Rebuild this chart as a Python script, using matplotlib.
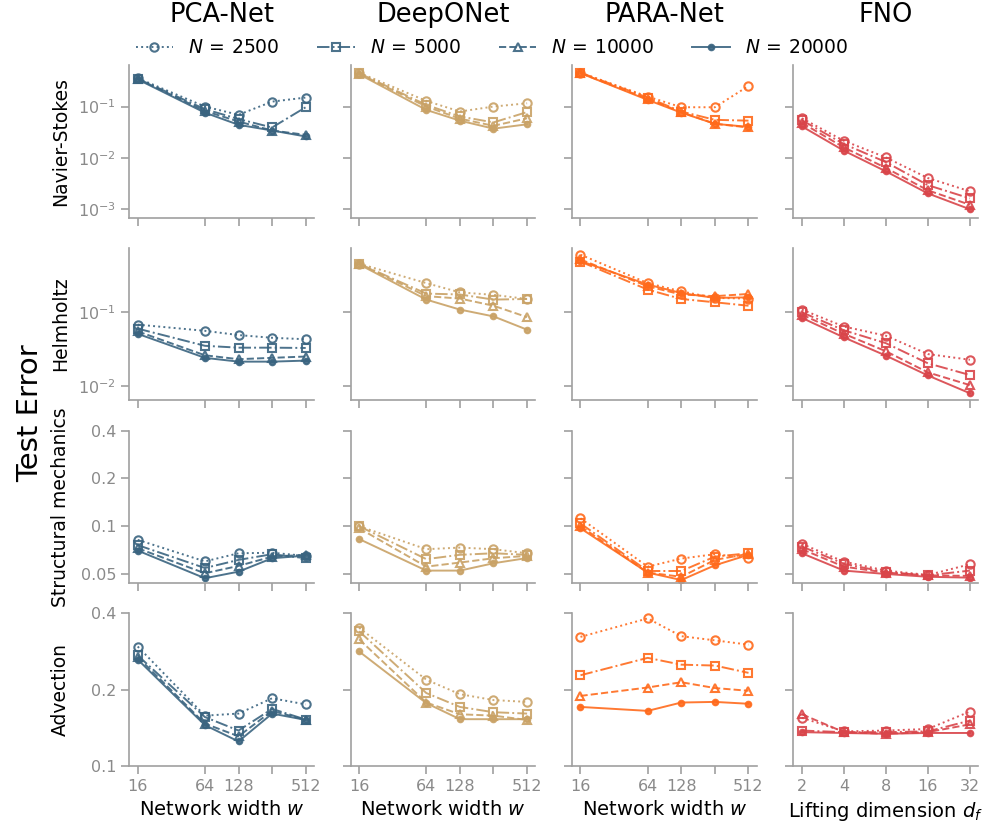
import matplotlib.pyplot as plt
from matplotlib.ticker import NullLocator, NullFormatter

widths = [16, 64, 128, 256, 512]
lifting = [2, 4, 8, 16, 32]
sample_sizes = [2500, 5000, 10000, 20000]
models = ['PCA-Net', 'DeepONet', 'PARA-Net', 'FNO']
problems = ['Navier-Stokes', 'Helmholtz', 'Structural mechanics', 'Advection']

# each block: one row per N (2500, 5000, 10000, 20000)
pca_ns = [[0.36, 0.100, 0.069, 0.125, 0.150],
          [0.35, 0.089, 0.057, 0.039, 0.097],
          [0.35, 0.082, 0.051, 0.034, 0.028],
          [0.34, 0.076, 0.044, 0.034, 0.026]]
deep_ns = [[0.46, 0.129, 0.080, 0.100, 0.116],
           [0.45, 0.108, 0.064, 0.049, 0.078],
           [0.44, 0.100, 0.058, 0.042, 0.059],
           [0.43, 0.086, 0.053, 0.037, 0.045]]
para_ns = [[0.46, 0.157, 0.097, 0.097, 0.253],
           [0.46, 0.150, 0.080, 0.055, 0.053],
           [0.45, 0.141, 0.078, 0.046, 0.039],
           [0.45, 0.135, 0.076, 0.046, 0.040]]
fno_ns = [[0.059, 0.0214, 0.0101, 0.0040, 0.0022],
          [0.054, 0.0185, 0.0082, 0.0029, 0.0016],
          [0.048, 0.0159, 0.0063, 0.0023, 0.0012],
          [0.041, 0.0137, 0.0054, 0.0020, 0.00098]]

pca_hh = [[0.068, 0.056, 0.049, 0.045, 0.043],
          [0.060, 0.035, 0.033, 0.033, 0.0327],
          [0.055, 0.026, 0.023, 0.024, 0.025],
          [0.051, 0.024, 0.0213, 0.0213, 0.022]]
deep_hh = [[0.46, 0.250, 0.187, 0.173, 0.152],
           [0.46, 0.180, 0.175, 0.149, 0.152],
           [0.46, 0.166, 0.154, 0.123, 0.086],
           [0.45, 0.149, 0.109, 0.088, 0.058]]
para_hh = [[0.61, 0.250, 0.193, 0.157, 0.154],
           [0.49, 0.204, 0.152, 0.137, 0.123],
           [0.525, 0.226, 0.175, 0.166, 0.178],
           [0.50, 0.239, 0.183, 0.157, 0.160]]
fno_hh = [[0.109, 0.064, 0.048, 0.027, 0.0226],
          [0.100, 0.057, 0.038, 0.0202, 0.014],
          [0.093, 0.051, 0.0295, 0.0152, 0.0102],
          [0.084, 0.0455, 0.0257, 0.0138, 0.0079]]

pca_sm = [[0.082, 0.060, 0.0675, 0.068, 0.065],
          [0.076, 0.0545, 0.0613, 0.0666, 0.0628],
          [0.0726, 0.0505, 0.0562, 0.0643, 0.066],
          [0.0702, 0.047, 0.0517, 0.0628, 0.0652]]
deep_sm = [[0.100, 0.0716, 0.0733, 0.0716, 0.0675],
           [0.100, 0.062, 0.066, 0.0675, 0.066],
           [0.097, 0.0556, 0.059, 0.0628, 0.065],
           [0.083, 0.0525, 0.0525, 0.0584, 0.063]]
para_sm = [[0.112, 0.0556, 0.0625, 0.0666, 0.063],
           [0.104, 0.0522, 0.0522, 0.0643, 0.0675],
           [0.100, 0.051, 0.048, 0.0613, 0.067],
           [0.097, 0.051, 0.0458, 0.0567, 0.066]]
fno_sm = [[0.0773, 0.0598, 0.0525, 0.0493, 0.0575],
          [0.0744, 0.058, 0.0513, 0.049, 0.0525],
          [0.0716, 0.0556, 0.051, 0.049, 0.0486],
          [0.0675, 0.0525, 0.050, 0.048, 0.0474]]

pca_adv = [[0.296, 0.158, 0.161, 0.185, 0.175],
           [0.273, 0.156, 0.138, 0.168, 0.1525],
           [0.269, 0.147, 0.131, 0.165, 0.152],
           [0.263, 0.145, 0.125, 0.161, 0.152]]
deep_adv = [[0.351, 0.219, 0.192, 0.182, 0.179],
            [0.340, 0.194, 0.171, 0.163, 0.161],
            [0.316, 0.178, 0.160, 0.158, 0.152],
            [0.283, 0.177, 0.153, 0.153, 0.153]]
para_adv = [[0.323, 0.382, 0.325, 0.313, 0.301],
            [0.228, 0.267, 0.251, 0.249, 0.233],
            [0.189, 0.204, 0.214, 0.203, 0.198],
            [0.171, 0.165, 0.178, 0.179, 0.176]]
fno_adv = [[0.155, 0.137, 0.138, 0.140, 0.164],
           [0.138, 0.136, 0.136, 0.137, 0.151],
           [0.160, 0.136, 0.134, 0.136, 0.146],
           [0.136, 0.135, 0.134, 0.135, 0.135]]

grid = [[pca_ns, deep_ns, para_ns, fno_ns],
        [pca_hh, deep_hh, para_hh, fno_hh],
        [pca_sm, deep_sm, para_sm, fno_sm],
        [pca_adv, deep_adv, para_adv, fno_adv]]

colors = ['#3a6480', '#c9a266', '#ff6a1c', '#d9454a']
linestyles = [':', '-.', '--', '-']
markers = ['o', 's', '^', '.']

tick_grey = '#8a8a8a'
spine_grey = '#a0a0a0'

fig, axes = plt.subplots(4, 4, figsize=(9.84, 8.26), dpi=100,
                         sharex='col', sharey='row')
fig.subplots_adjust(left=0.1314, right=0.9942, top=0.9213, bottom=0.0726,
                    wspace=0.198, hspace=0.197)

for i in range(4):
    for j in range(4):
        ax = axes[i, j]
        x = lifting if j == 3 else widths
        for k in range(4):
            ax.plot(x, grid[i][j][k], color=colors[j], ls=linestyles[k],
                    marker=markers[k], ms=6 if k < 3 else 8,
                    mfc='none' if k < 3 else colors[j], mew=1.5, lw=1.4,
                    alpha=0.9, label=r'$N\,=\,%d$' % sample_sizes[k])
        ax.set_xscale('log', base=2)
        ax.set_yscale('log')
        for s in ['top', 'right']:
            ax.spines[s].set_visible(False)
        for s in ['left', 'bottom']:
            ax.spines[s].set_color(spine_grey)
            ax.spines[s].set_linewidth(1.2)
        ax.tick_params(colors=spine_grey, labelcolor=tick_grey,
                       labelsize=11.5, length=6, width=1.2)
        if i == 0:
            ax.set_title(models[j], fontsize=18.5, pad=31)

for j in range(4):
    ax = axes[3, j]
    if j == 3:
        ax.set_xticks(lifting)
        ax.set_xticklabels([str(v) for v in lifting])
        ax.set_xlabel('Lifting dimension $d_f$', fontsize=14)
    else:
        ax.set_xticks(widths)
        ax.set_xticklabels(['16', '64', '128', '', '512'])
        ax.set_xlabel('Network width $w$', fontsize=14)
    ax.xaxis.set_minor_locator(NullLocator())
    ax.xaxis.set_minor_formatter(NullFormatter())

ylims = [(6.7e-4, 0.65), (6.3e-3, 0.757), (0.0437, 0.4), (0.1, 0.4)]
for i in range(4):
    ax = axes[i, 0]
    ax.set_ylim(*ylims[i])
    if i == 0:
        ax.set_yticks([1e-3, 1e-2, 1e-1])
    elif i == 1:
        ax.set_yticks([1e-2, 1e-1])
    elif i == 2:
        ax.set_yticks([0.05, 0.1, 0.2, 0.4])
        ax.set_yticklabels(['0.05', '0.1', '0.2', '0.4'])
    else:
        ax.set_yticks([0.1, 0.2, 0.4])
        ax.set_yticklabels(['0.1', '0.2', '0.4'])
    ax.yaxis.set_minor_locator(NullLocator())
    ax.yaxis.set_minor_formatter(NullFormatter())
    ax.set_ylabel(problems[i], fontsize=13.5)
    ax.yaxis.set_label_coords(-0.32, 0.5)

handles, labels = axes[0, 0].get_legend_handles_labels()
fig.legend(handles, labels, loc='center', bbox_to_anchor=(0.5, 0.942),
           ncol=4, frameon=False, fontsize=13.5)

fig.text(0.031, 0.5, 'Test Error', rotation=90, va='center', ha='center',
         fontsize=21)

fig.savefig('out.png', dpi=100)
